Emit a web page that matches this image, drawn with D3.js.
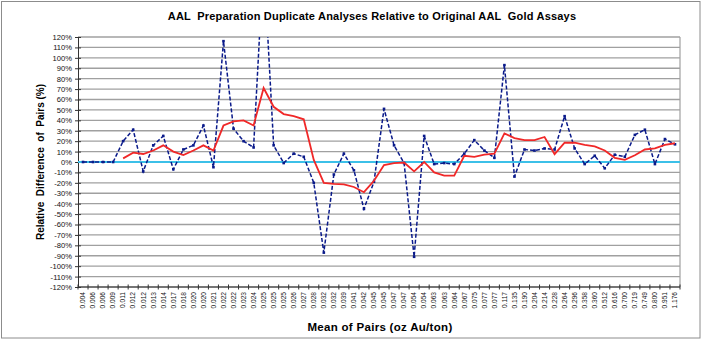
<!DOCTYPE html>
<html><head><meta charset="utf-8">
<script src="https://cdn.jsdelivr.net/npm/d3@7"></script>
<style>
html,body{margin:0;padding:0;background:#fff;}
svg text{font-family:"Liberation Sans",Arial,sans-serif;}
</style></head>
<body>
<svg id="c" width="705" height="342"></svg>
<script>
const categories = ["0.004","0.006","0.006","0.009","0.011","0.012","0.012","0.013","0.014","0.017","0.018","0.020","0.020","0.021","0.022","0.022","0.023","0.024","0.025","0.025","0.025","0.026","0.027","0.028","0.032","0.032","0.039","0.041","0.042","0.045","0.045","0.047","0.047","0.054","0.054","0.063","0.063","0.064","0.067","0.075","0.077","0.077","0.117","0.135","0.190","0.204","0.214","0.228","0.264","0.296","0.358","0.360","0.512","0.616","0.700","0.719","0.749","0.800","0.951","1.176"];
const duplicateDiff = [0,0,0,0,20,31,-9,16,25,-7,12,16,35,-5,116,32,20,14,195,16,-1,8,5,-20,-87,-12,8,-8,-45,-19,51,16,-1,-91,25,-2,-1,-2,8,21,11,4,93,-14,12,11,13,12,44,13,-2,6,-6,7,5,26,31,-2,22,17];
const movingAvg = [null,null,null,null,3.5,9,7.7,11,16,10,6.7,11,16,11,35,39,40,35,71,53,46,44,41,2,-20,-21,-21.5,-24,-29,-18,-3,-1,-0.5,-9,0,-10,-13,-13,6,5,7,8,27.5,23,21,21,24,7.5,18.5,18.5,16.5,15,11,4,2,6.5,12,13,16.5,18];
const baseline = 0;
const yTicks = d3.range(-120, 121, 10);

const svg = d3.select("#c");
const L = 78, R = 680, T = 37, B = 287;

svg.append("rect").attr("x",1.5).attr("y",1.5).attr("width",698.5).attr("height",336.5)
  .attr("fill","#fff").attr("stroke","#8c8c8c").attr("stroke-width",1);

const x = d3.scalePoint().domain(d3.range(categories.length)).range([L, R]).padding(0.5);
const y = d3.scaleLinear().domain([-120, 120]).range([B, T]);

// gridlines
svg.append("g").selectAll("line").data(yTicks).join("line")
  .attr("x1", L).attr("x2", R).attr("y1", d => y(d)).attr("y2", d => y(d))
  .attr("stroke", "#a0a0a0").attr("stroke-width", 1.4);

// plot border right
svg.append("line").attr("x1",R).attr("x2",R).attr("y1",T).attr("y2",B).attr("stroke","#a0a0a0").attr("stroke-width",1.2);

// y axis
const yAxis = svg.append("g").attr("transform", `translate(${L},0)`)
  .call(d3.axisLeft(y).tickValues(yTicks).tickFormat(d => d + "%").tickSizeInner(3).tickSizeOuter(0));
yAxis.selectAll("line").attr("x2", 3).attr("x1",-3).attr("stroke","#333");
yAxis.select(".domain").attr("stroke","#333");
yAxis.selectAll("text").attr("x",-6).style("font-size","7.6px").attr("fill","#111");

// x axis
const step = x.step();
const xg = svg.append("g");
xg.append("line").attr("x1",L).attr("x2",R).attr("y1",B).attr("y2",B).attr("stroke","#333");
xg.selectAll("line.t").data(d3.range(categories.length+1)).join("line").attr("class","t")
  .attr("x1", i => L + i*step).attr("x2", i => L + i*step).attr("y1", B-2.5).attr("y2", B+2.5).attr("stroke","#333");
xg.selectAll("text").data(categories).join("text")
  .attr("transform", (d,i) => `translate(${x(i)+2.3},${B+5}) rotate(-90)`)
  .attr("text-anchor","end").style("font-size","6.6px").attr("fill","#111").text(d => d);

// clip
svg.append("clipPath").attr("id","clip").append("rect").attr("x",L).attr("y",T).attr("width",R-L).attr("height",B-T);
const plot = svg.append("g").attr("clip-path","url(#clip)");

// baseline
plot.append("line").attr("x1",L).attr("x2",R).attr("y1",y(baseline)).attr("y2",y(baseline))
  .attr("stroke","#3cc0e8").attr("stroke-width",2);

const line = d3.line().defined(d => d[1] != null).x(d => x(d[0])).y(d => y(d[1]));
plot.append("path").datum(duplicateDiff.map((v,i)=>[i,v]))
  .attr("d", line).attr("fill","none").attr("stroke","#0a1a8a").attr("stroke-width",1.5)
  .attr("stroke-dasharray","4,2");
plot.append("g").selectAll("rect").data(duplicateDiff).join("rect")
  .attr("x",(d,i)=>x(i)-1.3).attr("y",d=>y(d)-1.3).attr("width",2.6).attr("height",2.6).attr("fill","#0a1a8a");

plot.append("path").datum(movingAvg.map((v,i)=>[i,v]))
  .attr("d", line).attr("fill","none").attr("stroke","#f02828").attr("stroke-width",1.8);

// titles
svg.append("text").attr("x",372).attr("y",20).attr("text-anchor","middle")
  .style("font-size","11px").style("letter-spacing","0.2px").style("font-weight","bold").style("white-space","pre")
  .text("AAL  Preparation Duplicate Analyses Relative to Original AAL  Gold Assays");
svg.append("text").attr("x",380).attr("y",331).attr("text-anchor","middle")
  .style("font-size","11.5px").style("letter-spacing","0.3px").style("font-weight","bold").text("Mean of Pairs (oz Au/ton)");
svg.append("text").attr("transform","translate(43.5,162) rotate(-90)").attr("text-anchor","middle")
  .style("font-size","10px").style("font-weight","bold").style("white-space","pre").text("Relative  Difference  of  Pairs (%)");
</script>
</body></html>
